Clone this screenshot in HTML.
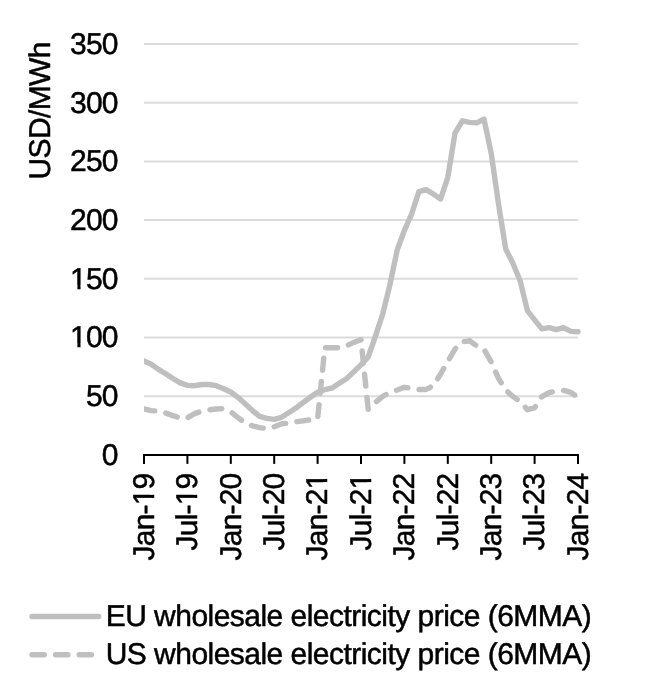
<!DOCTYPE html>
<html><head><meta charset="utf-8"><title>Wholesale electricity price</title>
<style>
html,body{margin:0;padding:0;background:#fff;}
body{width:662px;height:688px;overflow:hidden;}
svg{display:block;}
text{font-family:"Liberation Sans",Arial,Helvetica,sans-serif;font-size:30px;fill:#000;stroke:#000;stroke-width:0.5px;stroke-linejoin:round;text-rendering:geometricPrecision;}
.yl{letter-spacing:-0.85px;} .xl{letter-spacing:-0.8px;} .ti{letter-spacing:-0.63px;} .lg{letter-spacing:-0.53px;}
</style></head><body>
<svg width="662" height="688" viewBox="0 0 662 688">
<rect width="662" height="688" fill="#fff"/>
<defs><clipPath id="c"><rect x="144" y="30" width="450" height="426"/></clipPath></defs>

<g stroke="#dcdcdc" stroke-width="2">
<line x1="144" x2="578" y1="44" y2="44"/>
<line x1="144" x2="578" y1="102.7" y2="102.7"/>
<line x1="144" x2="578" y1="161.4" y2="161.4"/>
<line x1="144" x2="578" y1="220" y2="220"/>
<line x1="144" x2="578" y1="278.7" y2="278.7"/>
<line x1="144" x2="578" y1="337.5" y2="337.5"/>
<line x1="144" x2="578" y1="396.2" y2="396.2"/>
</g>
<g clip-path="url(#c)" fill="none" stroke="#bfbfbf" stroke-width="5.4" stroke-linejoin="round" stroke-linecap="round">
<polyline points="144.0,361.0 151.2,364.2 158.5,369.4 165.7,373.7 172.9,378.5 180.2,382.9 187.4,385.4 194.6,385.7 201.9,384.5 209.1,384.5 216.3,385.7 223.6,388.7 230.8,392.0 238.0,397.3 245.3,404.0 252.5,410.6 259.7,416.4 267.0,418.4 274.2,419.4 281.4,417.3 288.7,412.8 295.9,408.1 303.1,402.5 310.4,397.3 317.6,392.2 324.8,389.7 332.1,388.0 339.3,383.2 346.5,378.7 353.8,371.8 361.0,364.9 368.2,356.9 375.5,336.0 382.7,314.0 389.9,284.9 397.2,250.0 404.4,230.4 411.6,214.0 418.9,191.6 426.1,189.6 433.3,194.0 440.6,199.0 447.8,177.3 455.0,133.2 462.3,120.8 469.5,122.4 476.7,122.8 484.0,119.1 491.2,153.2 498.4,203.2 505.7,249.0 512.9,263.3 520.1,280.7 527.4,310.6 534.6,319.8 541.8,328.9 549.1,327.7 556.3,329.7 563.5,327.7 570.8,331.4 578.0,331.7"/>
<polyline points="144.0,409.0 151.2,410.6 158.5,411.1 165.7,413.1 172.9,415.6 180.2,418.1 187.4,417.8 194.6,413.6 201.9,411.1 209.1,409.8 216.3,409.0 223.6,408.6 230.8,411.8 238.0,417.8 245.3,422.7 252.5,425.9 259.7,427.6 267.0,428.6 274.2,426.7 281.4,423.9 288.7,423.1 295.9,421.8 303.1,420.8 310.4,419.8 317.6,418.9 324.8,347.8 332.1,347.8 339.3,347.8 346.5,345.8 353.8,342.4 361.0,339.6" stroke-dasharray="12 11.3" stroke-dashoffset="1.0"/>
<polyline points="361.0,339.6 368.2,409.3 375.5,402.3 382.7,396.4 389.9,392.3 397.2,390.0 404.4,387.3 411.6,388.5 418.9,389.5 426.1,389.5 433.3,385.6 440.6,374.0 447.8,361.5 455.0,349.1 462.3,341.9 469.5,340.8" stroke-dasharray="12 11.3" stroke-dashoffset="11.83"/>
<polyline points="469.5,340.8 476.7,345.8 484.0,349.4 491.2,361.9 498.4,378.2 505.7,390.0 512.9,396.4 520.1,401.4 527.4,409.7 534.6,407.9 541.8,396.6 549.1,392.6 556.3,391.2 563.5,390.4 570.8,392.4 578.0,397.3" stroke-dasharray="12.05 11.42" stroke-dashoffset="4.5"/>
</g>
<g stroke="#000" stroke-width="2" fill="none" stroke-linejoin="round">
<line x1="143" x2="579" y1="455.1" y2="455.1"/>
<line x1="144.0" x2="144.0" y1="455.1" y2="463.9"/>
<line x1="187.4" x2="187.4" y1="455.1" y2="463.9"/>
<line x1="230.8" x2="230.8" y1="455.1" y2="463.9"/>
<line x1="274.2" x2="274.2" y1="455.1" y2="463.9"/>
<line x1="317.6" x2="317.6" y1="455.1" y2="463.9"/>
<line x1="361.0" x2="361.0" y1="455.1" y2="463.9"/>
<line x1="404.4" x2="404.4" y1="455.1" y2="463.9"/>
<line x1="447.8" x2="447.8" y1="455.1" y2="463.9"/>
<line x1="491.2" x2="491.2" y1="455.1" y2="463.9"/>
<line x1="534.6" x2="534.6" y1="455.1" y2="463.9"/>
<line x1="578.0" x2="578.0" y1="455.1" y2="463.9"/>
</g>
<text class="yl" x="117.6" y="54" text-anchor="end">350</text>
<text class="yl" x="117.6" y="113" text-anchor="end">300</text>
<text class="yl" x="117.6" y="171" text-anchor="end">250</text>
<text class="yl" x="117.6" y="230" text-anchor="end">200</text>
<text class="yl" x="117.6" y="289" text-anchor="end">150</text>
<rect x="70.68" y="285.46" width="6.71" height="4.54" fill="#fff"/><rect x="80.54" y="285.46" width="6.07" height="4.54" fill="#fff"/>
<text class="yl" x="117.6" y="347" text-anchor="end">100</text>
<rect x="70.68" y="343.46" width="6.71" height="4.54" fill="#fff"/><rect x="80.54" y="343.46" width="6.07" height="4.54" fill="#fff"/>
<text class="yl" x="117.6" y="406" text-anchor="end">50</text>
<text class="yl" x="117.6" y="465" text-anchor="end">0</text>
<text class="ti" transform="translate(50.0,179.5) rotate(-90)">USD/MWh</text>
<g transform="translate(154,473.5) rotate(-90)"><text class="xl" text-anchor="end">Jan-19</text>
<rect x="-31.18" y="-3.54" width="6.71" height="4.54" fill="#fff"/><rect x="-21.32" y="-3.54" width="6.07" height="4.54" fill="#fff"/>
</g>
<g transform="translate(197,473.5) rotate(-90)"><text class="xl" text-anchor="end">Jul-19</text>
<rect x="-31.18" y="-3.54" width="6.71" height="4.54" fill="#fff"/><rect x="-21.32" y="-3.54" width="6.07" height="4.54" fill="#fff"/>
</g>
<g transform="translate(241,473.5) rotate(-90)"><text class="xl" text-anchor="end">Jan-20</text>
</g>
<g transform="translate(284,473.5) rotate(-90)"><text class="xl" text-anchor="end">Jul-20</text>
</g>
<g transform="translate(327,473.5) rotate(-90)"><text class="xl" text-anchor="end">Jan-21</text>
<rect x="-15.30" y="-3.54" width="6.71" height="4.54" fill="#fff"/><rect x="-5.44" y="-3.54" width="6.07" height="4.54" fill="#fff"/>
</g>
<g transform="translate(371,473.5) rotate(-90)"><text class="xl" text-anchor="end">Jul-21</text>
<rect x="-15.30" y="-3.54" width="6.71" height="4.54" fill="#fff"/><rect x="-5.44" y="-3.54" width="6.07" height="4.54" fill="#fff"/>
</g>
<g transform="translate(414,473.5) rotate(-90)"><text class="xl" text-anchor="end">Jan-22</text>
</g>
<g transform="translate(458,473.5) rotate(-90)"><text class="xl" text-anchor="end">Jul-22</text>
</g>
<g transform="translate(501,473.5) rotate(-90)"><text class="xl" text-anchor="end">Jan-23</text>
</g>
<g transform="translate(544,473.5) rotate(-90)"><text class="xl" text-anchor="end">Jul-23</text>
</g>
<g transform="translate(588,473.5) rotate(-90)"><text class="xl" text-anchor="end">Jan-24</text>
</g>
<g fill="none" stroke="#bfbfbf" stroke-width="5.4" stroke-linecap="round">
<line x1="32" x2="98.7" y1="616.5" y2="616.5"/>
<line x1="32" x2="91.5" y1="654.7" y2="654.7" stroke-dasharray="12.3 11.3"/>
</g>
<text class="lg" x="105.7" y="625.8">EU wholesale electricity price (6MMA)</text>
<text class="lg" x="105.7" y="664">US wholesale electricity price (6MMA)</text>
</svg></body></html>
